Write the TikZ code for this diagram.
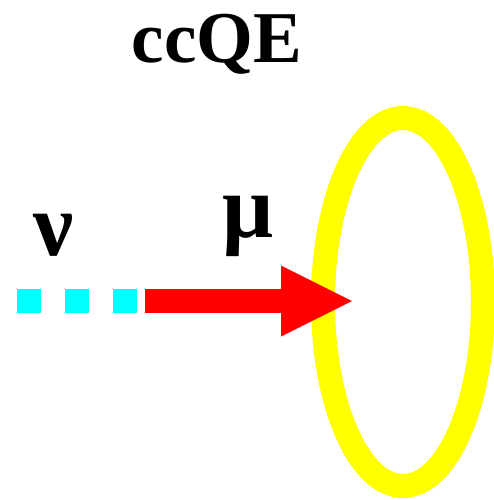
\documentclass[tikz,border=0pt]{standalone}
\usepackage{fontspec}
\setmainfont{Liberation Serif}
\usepackage{xcolor}
\usetikzlibrary{arrows.meta, shapes.geometric}
\definecolor{nucyan}{RGB}{0,255,255}
\definecolor{ringyellow}{RGB}{255,255,0}
\definecolor{mured}{RGB}{255,0,0}
\tikzstyle{ring} = [ellipse, draw=ringyellow, line width=24pt, minimum width=160pt, minimum height=368pt, inner sep=0pt]
\tikzstyle{nuline} = [draw=nucyan, line width=24pt, dash pattern=on 24pt off 24pt]
\tikzstyle{muarrow} = [draw=mured, line width=24pt, -{Triangle[length=71pt, width=71pt, line width=0pt]}]
\tikzstyle{titletext} = [inner sep=0pt, font=\fontsize{73}{80}\selectfont\bfseries]
\tikzstyle{greek} = [inner sep=0pt, font=\fontsize{90}{100}\selectfont\bfseries]

\begin{document}
\begin{tikzpicture}[x=1pt, y=-1pt]
\useasboundingbox (0,0) rectangle (493,500);
\node [ring] (ring) at (403,302) {};

\coordinate (nustart) at (17,301);
\coordinate (vertex) at (145,301);
\coordinate (tip) at (352,301);
\draw [nuline] (nustart) -- (vertex);
\draw [muarrow] (vertex) -- (tip);

\node [titletext, anchor=base] (title) at (217,63) {ccQE};
\node [greek, anchor=base] (nulabel) at (54,255) {ν};
\node [greek, anchor=base] (mulabel) at (248,237) {μ};
\end{tikzpicture}
\end{document}
